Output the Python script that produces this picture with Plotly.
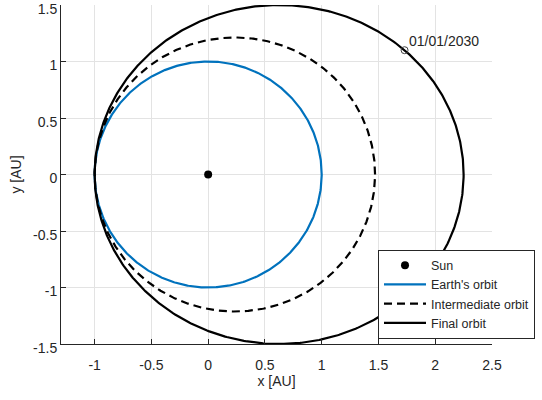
import numpy as np
import plotly.graph_objects as go

# Orbits described by perihelion / aphelion distances (AU), Sun at the focus
orbit_names = ["Earth's orbit", "Intermediate orbit", "Final orbit"]
perihelion_au = [1.0, 1.0, 1.0]
aphelion_au = [1.0, 1.47, 2.25]
orbit_colors = ["#0072BD", "#000000", "#000000"]
orbit_dashes = ["solid", "8px,5px", "solid"]

# Sun position and the dated point on the final orbit
sun_x = [0.0]
sun_y = [0.0]
event_x = [1.73]
event_y = [1.10]
event_label = ["01/01/2030"]

x_ticks = [-1, -0.5, 0, 0.5, 1, 1.5, 2, 2.5]
x_tick_text = ["-1", "-0.5", "0", "0.5", "1", "1.5", "2", "2.5"]
y_ticks = [-1.5, -1, -0.5, 0, 0.5, 1, 1.5]
y_tick_text = ["-1.5", "-1", "-0.5", "0", "0.5", "1", "1.5"]

FONT = "Liberation Sans, Arial, sans-serif"
TXT = "#262626"

fig = go.Figure()

fig.add_trace(go.Scatter(
    x=sun_x, y=sun_y, mode="markers", name="Sun",
    marker=dict(color="black", size=8, symbol="circle"),
))

t = np.linspace(0, 2 * np.pi, 721)
for name, rp, ra, col, dash in zip(orbit_names, perihelion_au, aphelion_au,
                                   orbit_colors, orbit_dashes):
    a = (rp + ra) / 2.0
    b = np.sqrt(rp * ra)
    cx = (ra - rp) / 2.0
    fig.add_trace(go.Scatter(
        x=cx + a * np.cos(t), y=b * np.sin(t), mode="lines", name=name,
        line=dict(color=col, width=2.2, dash=dash),
    ))

fig.add_trace(go.Scatter(
    x=event_x, y=event_y, mode="markers", showlegend=False,
    marker=dict(symbol="circle-open", size=7, color="#404040",
                line=dict(width=1, color="#404040")),
))
fig.add_annotation(
    x=event_x[0], y=event_y[0], text=event_label[0], showarrow=False,
    xanchor="left", yanchor="middle", xshift=2, yshift=9,
    font=dict(family=FONT, size=14, color=TXT),
)

axis_common = dict(
    showgrid=True, gridcolor="#e3e3e3", gridwidth=1,
    zeroline=False, showline=True, linecolor=TXT, linewidth=1,
    ticks="inside", ticklen=5, tickcolor=TXT,
    tickfont=dict(family=FONT, size=14, color=TXT),
    mirror=False, ticklabeloverflow="allow", automargin=False,
)

fig.update_xaxes(
    range=[-1.296, 2.5], tickvals=x_ticks, ticktext=x_tick_text,
    ticklabelstandoff=8,
    title=dict(text="x [AU]", font=dict(family=FONT, size=14, color=TXT),
               standoff=4),
    **axis_common,
)
fig.update_yaxes(
    range=[-1.5, 1.5], tickvals=y_ticks, ticktext=y_tick_text,
    ticklabelshift=4,
    title=dict(text="y [AU]", font=dict(family=FONT, size=14, color=TXT),
               standoff=8),
    **axis_common,
)

fig.update_layout(
    width=542, height=400,
    margin=dict(l=61, r=50, t=5, b=56),
    paper_bgcolor="white", plot_bgcolor="white",
    font=dict(family=FONT, color=TXT),
    legend=dict(
        x=0.7355, y=0.2786, xanchor="left", yanchor="top",
        bgcolor="white", bordercolor=TXT, borderwidth=1,
        font=dict(family=FONT, size=12.5, color=TXT),
        itemwidth=42, tracegroupgap=0,
    ),
)

fig.write_html("out.html")
